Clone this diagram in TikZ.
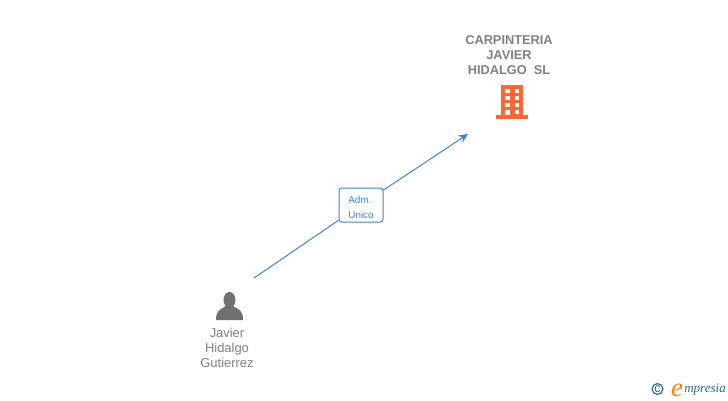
\documentclass[tikz,border=0pt]{standalone}
\usepackage{xcolor}
\usepackage{fontspec}
\setmainfont{Liberation Sans}
\newfontfamily\logofont{Liberation Serif}
\usetikzlibrary{calc,arrows.meta}
\definecolor{edge}{HTML}{3F80E0}
\definecolor{name}{HTML}{808080}
\definecolor{firm}{HTML}{FF6633}
\definecolor{person}{HTML}{707070}
\definecolor{logo}{HTML}{2F6F8F}
\tikzset{
  namelabel/.style={text=name,align=center,font=\fontsize{9.7}{11.2}\selectfont},
  rolebox/.style={draw=edge,fill=white,rounded corners=2pt,text=edge,align=left,line width=0.75pt,
    minimum width=33pt,minimum height=25.5pt,inner sep=0pt,font=\fontsize{7.4}{11.2}\selectfont},
}
\begin{document}
\begin{tikzpicture}[x=0.75pt,y=-0.75pt]
  \useasboundingbox (0,0) rectangle (728,400);
  \coordinate (A) at (254,278);
  \coordinate (B) at (468,134);

  \node[rolebox] (R) at (361,205) {\rule{0pt}{8.5pt}Adm.\\Unico};
  \draw[line width=0.75pt,color=edge] (A)--(R);
  \draw[line width=0.75pt,-{Stealth[length=7pt,width=6.5pt]},color=edge] (R)--(B);

  \node[namelabel,font=\fontsize{9.6}{11.2}\selectfont\bfseries] (F) at (509,55.5) {CARPINTERIA\\JAVIER\\HIDALGO\ \ SL};
  \node[namelabel] (P) at (227,347.5) {Javier\\Hidalgo\\Gutierrez};

  % building
  \fill[color=firm] (501,85) rectangle (523,115);
  \fill[color=firm] (496,115) rectangle (528,118.5);
  \foreach \y in {88.5,95.5,102.5} {
    \fill[color=white] (505,\y) rectangle (509.5,\y+4);
    \fill[color=white] (514.5,\y) rectangle (519,\y+4);
  }
  \fill[color=white] (514.5,109.5) rectangle (519,113.5);
  \fill[color=white] (505,109.5) rectangle (509.5,115);

  % person
  \fill[color=person] (229.5,300) ellipse (6 and 8);
  \fill[color=person] (216,320) .. controls (216,311) and (219,310) .. (226,306)
    -- (233,306) .. controls (240,310) and (243,311) .. (243,320) -- cycle;

  % logo
  \node[draw=logo,line width=0.9pt,circle,inner sep=0.4pt,text=logo,font=\fontsize{9.5}{9.5}\selectfont] (C) at (657.5,389) {c};
  \node[text=orange,inner sep=0pt,font=\logofont\fontsize{20}{20}\selectfont\itshape] (E) at (677,390) {e};
  \node[anchor=west,text=logo,inner sep=0pt,font=\logofont\fontsize{9.8}{10}\selectfont\itshape] (L) at (684,390) {mpresia};
\end{tikzpicture}
\end{document}
